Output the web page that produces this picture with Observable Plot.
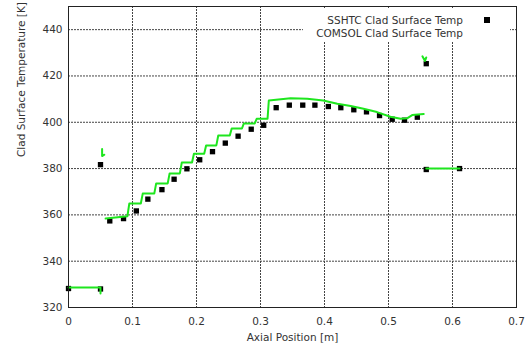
<!DOCTYPE html>
<html>
<head>
<meta charset="utf-8">
<script src="https://cdn.jsdelivr.net/npm/d3@7"></script>
<script src="https://cdn.jsdelivr.net/npm/@observablehq/plot@0.6"></script>
<style>
  html, body { margin: 0; padding: 0; background: #fff; }
  #wrap { position: relative; width: 526px; height: 354px; font-family: "DejaVu Sans", sans-serif; }
  #legend { position: absolute; left: 303px; top: 8px; width: 207px; height: 34px; background: #fff;
            font-size: 10.5px; color: #333; }
  #legend .row { position: absolute; right: 47px; white-space: nowrap; line-height: 12px; }
  #legend .sq { position: absolute; width: 6px; height: 6px; background: #000; }
</style>
</head>
<body>
<div id="wrap"></div>
<script>
// Tick values and labels
const xTicks = [0, 0.1, 0.2, 0.3, 0.4, 0.5, 0.6, 0.7];
const yTicks = [320, 340, 360, 380, 400, 420, 440];
const xLabel = "Axial Position [m]";
const yLabel = "Clad Surface Temperature [K]";
const seriesNames = ["SSHTC Clad Surface Temp", "COMSOL Clad Surface Temp"];

// SSHTC points (squares)
const sshtcX = [0, 0.05, 0.05, 0.0645, 0.086, 0.106, 0.124, 0.146, 0.165, 0.185, 0.205, 0.225, 0.245,
  0.265, 0.2855, 0.305, 0.3245, 0.345, 0.366, 0.385, 0.406, 0.4255, 0.4458, 0.4656, 0.486, 0.5058,
  0.525, 0.545, 0.559, 0.559, 0.611];
const sshtcT = [328.2, 328, 381.7, 357.4, 358.4, 361.7, 366.8, 370.9, 375.4, 379.9, 383.8, 387.3, 391,
  394, 397, 398.7, 406.3, 407.4, 407.4, 407.4, 406.8, 406.3, 405.4, 404.5, 402.9, 401.3,
  400.9, 402.2, 425.3, 379.6, 380];

// COMSOL line, one pair of arrays per separate piece
const comsolX1 = [0, 0.05, 0.05];
const comsolT1 = [328.6, 328.6, 326];
const comsolX2 = [0.0525, 0.0525, 0.056];
const comsolT2 = [388.5, 385.4, 386];
const comsolX3 = [0.058, 0.092, 0.095, 0.113, 0.116, 0.134, 0.137, 0.155, 0.158, 0.174, 0.177, 0.193,
  0.196, 0.212, 0.215, 0.231, 0.234, 0.252, 0.255, 0.271, 0.274, 0.291, 0.294, 0.311, 0.313, 0.347,
  0.373, 0.398, 0.420, 0.441, 0.461, 0.482, 0.503, 0.519, 0.529, 0.537, 0.555];
const comsolT3 = [358.4, 359.4, 364.9, 364.9, 369.2, 369.2, 373.6, 373.6, 377.9, 377.9, 382.6, 382.6,
  386.4, 386.4, 390, 390, 394.3, 394.3, 397.3, 397.3, 399.5, 399.5, 401.5, 401.5, 409.4, 410.4,
  410.2, 409.4, 408.0, 407.0, 405.8, 404.4, 402.4, 401.5, 401.7, 403.1, 403.6];
const comsolX4 = [0.553, 0.557, 0.559];
const comsolT4 = [428.5, 426.5, 428];
const comsolX5 = [0.559, 0.611];
const comsolT5 = [380, 380];

const sshtc = sshtcX.map((x, i) => ({x, t: sshtcT[i]}));
const pieces = [[comsolX1, comsolT1], [comsolX2, comsolT2], [comsolX3, comsolT3],
                [comsolX4, comsolT4], [comsolX5, comsolT5]];
const comsol = pieces.flatMap(([xs, ts], s) => xs.map((x, i) => ({x, t: ts[i], s: "p" + s})));

const fmt = d => String(+d.toFixed(1));

const chart = Plot.plot({
  width: 526, height: 354,
  marginLeft: 68, marginRight: 10, marginTop: 6, marginBottom: 47,
  x: {domain: [0, 0.7]},
  y: {domain: [320, 450]},
  style: {fontFamily: "DejaVu Sans, sans-serif", fontSize: "10.5px", color: "#333", background: "#fff"},
  marks: [
    Plot.ruleX(xTicks.slice(1, -1), {stroke: "#444", strokeWidth: 1, strokeDasharray: "2,1"}),
    Plot.ruleY(yTicks.slice(1), {stroke: "#444", strokeWidth: 1, strokeDasharray: "2,1"}),
    Plot.axisX(xTicks, {tickSize: 0, tickPadding: 10, tickFormat: fmt, label: null}),
    Plot.axisY(yTicks, {tickSize: 0, tickPadding: 6, label: null}),
    Plot.dot(sshtc, {x: "x", y: "t", symbol: "square", r: 3, fill: "#000", stroke: "none"}),
    Plot.line(comsol, {x: "x", y: "t", z: "s", stroke: "#1ee61e", strokeWidth: 2}),
    Plot.frame({stroke: "#222", strokeWidth: 1}),
    Plot.text([xLabel], {frameAnchor: "bottom", dy: 33, fill: "#333"}),
    Plot.text([yLabel], {frameAnchor: "left", dx: -47, rotate: -90, fill: "#333"})
  ]
});

const wrap = document.getElementById("wrap");
wrap.appendChild(chart);
const legend = document.createElement("div");
legend.id = "legend";
legend.innerHTML =
  `<div class="row" style="top:6px">${seriesNames[0]}</div>` +
  `<div class="sq" style="left:181px; top:9px"></div>` +
  `<div class="row" style="top:19px">${seriesNames[1]}</div>`;
wrap.appendChild(legend);
</script>
</body>
</html>
